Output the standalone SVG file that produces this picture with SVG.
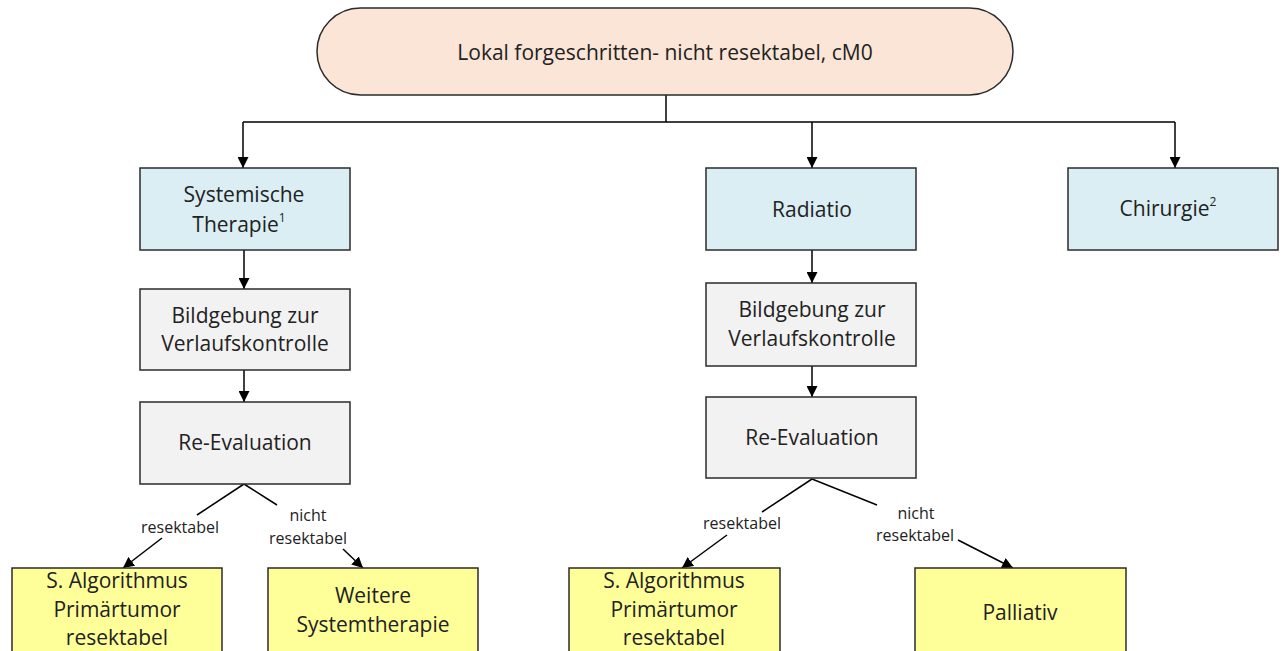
<svg xmlns="http://www.w3.org/2000/svg" width="1285" height="651" viewBox="0 0 1285 651">
<defs>
<marker id="arr" viewBox="0 0 10 10" refX="10" refY="5" markerWidth="11" markerHeight="11" markerUnits="userSpaceOnUse" orient="auto">
<path d="M0,0 L10,5 L0,10 z" fill="#000"/>
</marker>
<style>
.box{stroke:#2b2b2b;stroke-width:1.5}
.blue{fill:#daeef3}
.grey{fill:#f2f2f2}
.yel{fill:#ffff99}
.start{fill:#fbe5d6}
.t{font-family:"Open Sans","Liberation Sans",sans-serif;font-size:21px;fill:#222;text-anchor:middle;dominant-baseline:central}
.s{font-family:"Open Sans","Liberation Sans",sans-serif;font-size:16px;fill:#222;text-anchor:middle;dominant-baseline:central}
.sup{font-size:12px}
.c{fill:none;stroke:#000;stroke-width:1.5}
</style>
</defs>
<rect width="1285" height="651" fill="#fff"/>
<g id="connectors">
<path class="c" d="M666,95 V122"/>
<path class="c" d="M243,122 H1175"/>
<path class="c" d="M243,122 V168" marker-end="url(#arr)"/>
<path class="c" d="M812,122 V168" marker-end="url(#arr)"/>
<path class="c" d="M1175,122 V168" marker-end="url(#arr)"/>
<path class="c" d="M244,250 V289" marker-end="url(#arr)"/>
<path class="c" d="M244,370 V402" marker-end="url(#arr)"/>
<path class="c" d="M812,250 V283" marker-end="url(#arr)"/>
<path class="c" d="M812,366 V397" marker-end="url(#arr)"/>
<path class="c" d="M244,484 L197,515"/>
<path class="c" d="M162,538 L123,568" marker-end="url(#arr)"/>
<path class="c" d="M244,484 L277,505"/>
<path class="c" d="M343,549 L363,568" marker-end="url(#arr)"/>
<path class="c" d="M812,479 L762,512"/>
<path class="c" d="M727,535 L682,568" marker-end="url(#arr)"/>
<path class="c" d="M812,479 L877,505"/>
<path class="c" d="M958,540 L1013,568" marker-end="url(#arr)"/>
<text class="s" x="180" y="527">resektabel</text>
<text class="s" x="308" y="515">nicht</text>
<text class="s" x="308" y="538">resektabel</text>
<text class="s" x="742" y="523">resektabel</text>
<text class="s" x="916" y="513">nicht</text>
<text class="s" x="915" y="535">resektabel</text>
</g>
<g id="start">
<rect class="box start" x="317" y="8" width="696" height="87" rx="43.5" ry="43.5"/>
<text class="t" x="665" y="52">Lokal forgeschritten- nicht resektabel, cM0</text>
</g>
<g id="systemische">
<rect class="box blue" x="140" y="168" width="210" height="82"/>
<text class="t" x="244" y="194">Systemische</text>
<text class="t" x="239" y="224">Therapie<tspan class="sup" dy="-7">1</tspan></text>
</g>
<g id="bildgebung1">
<rect class="box grey" x="140" y="289" width="210" height="81"/>
<text class="t" x="245" y="315">Bildgebung zur</text>
<text class="t" x="245" y="343">Verlaufskontrolle</text>
</g>
<g id="reeval1">
<rect class="box grey" x="140" y="402" width="210" height="82"/>
<text class="t" x="245" y="442">Re-Evaluation</text>
</g>
<g id="radiatio">
<rect class="box blue" x="706" y="168" width="210" height="82"/>
<text class="t" x="812" y="209">Radiatio</text>
</g>
<g id="bildgebung2">
<rect class="box grey" x="706" y="283" width="210" height="83"/>
<text class="t" x="812" y="309">Bildgebung zur</text>
<text class="t" x="812" y="338">Verlaufskontrolle</text>
</g>
<g id="reeval2">
<rect class="box grey" x="706" y="397" width="210" height="81"/>
<text class="t" x="812" y="437">Re-Evaluation</text>
</g>
<g id="chirurgie">
<rect class="box blue" x="1068" y="168" width="210" height="82"/>
<text class="t" x="1168" y="208">Chirurgie<tspan class="sup" dy="-7">2</tspan></text>
</g>
<g id="algo1">
<rect class="box yel" x="12" y="568" width="210" height="90"/>
<text class="t" x="117" y="580">S. Algorithmus</text>
<text class="t" x="117" y="609">Primärtumor</text>
<text class="t" x="117" y="637">resektabel</text>
</g>
<g id="weitere">
<rect class="box yel" x="268" y="568" width="210" height="90"/>
<text class="t" x="373" y="595">Weitere</text>
<text class="t" x="373" y="624">Systemtherapie</text>
</g>
<g id="algo2">
<rect class="box yel" x="569" y="568" width="211" height="90"/>
<text class="t" x="674" y="580">S. Algorithmus</text>
<text class="t" x="674" y="609">Primärtumor</text>
<text class="t" x="674" y="637">resektabel</text>
</g>
<g id="palliativ">
<rect class="box yel" x="915" y="568" width="211" height="90"/>
<text class="t" x="1020" y="612">Palliativ</text>
</g>
</svg>
